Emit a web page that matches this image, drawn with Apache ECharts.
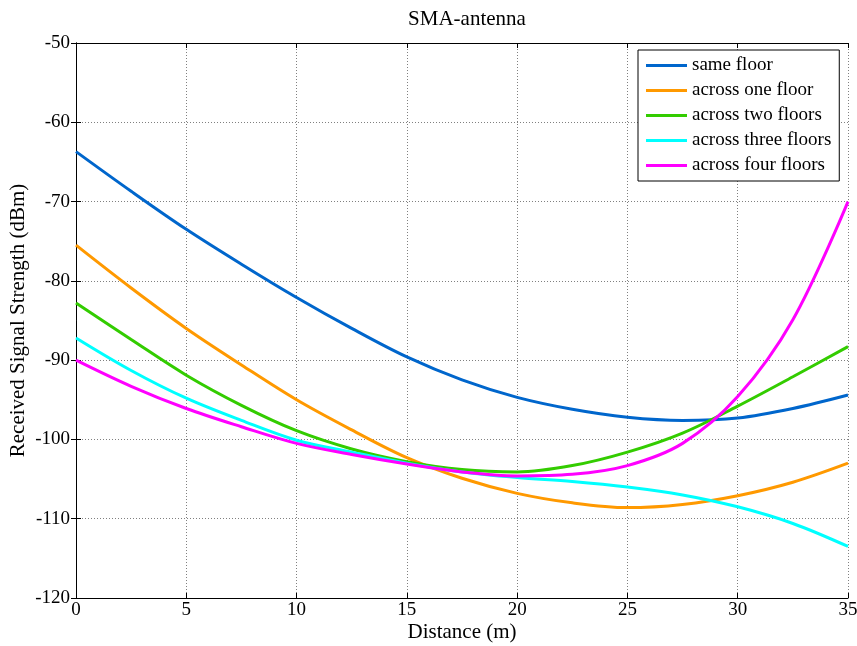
<!DOCTYPE html>
<html>
<head>
<meta charset="utf-8">
<script src="https://cdn.jsdelivr.net/npm/echarts@6/dist/echarts.min.js"></script>
<style>
html,body{margin:0;padding:0;background:#fff;}
#chart{width:857px;height:646px;}
</style>
</head>
<body>
<div id="chart"></div>
<script>
// Data
const distance = [0, 2.5, 5, 7.5, 10, 12.5, 15, 17.5, 20, 22.5, 25, 27.5, 30, 32.5, 35];
const sameFloor = [-63.7, -68.7, -73.5, -77.9, -82.1, -86.0, -89.6, -92.5, -94.7, -96.2, -97.2, -97.6, -97.3, -96.1, -94.4];
const acrossOne = [-75.5, -80.9, -86.0, -90.6, -95.0, -98.8, -102.3, -104.9, -106.8, -108.0, -108.6, -108.2, -107.1, -105.4, -103.0];
const acrossTwo = [-82.8, -87.4, -91.9, -95.7, -98.9, -101.2, -102.8, -103.8, -104.1, -103.3, -101.6, -99.2, -95.8, -92.1, -88.3];
const acrossThree = [-87.2, -91.3, -94.8, -97.6, -100.1, -101.6, -103.0, -104.1, -104.8, -105.3, -106.0, -107.0, -108.5, -110.6, -113.5];
const acrossFour = [-90.0, -93.3, -96.1, -98.4, -100.5, -101.9, -103.1, -104.1, -104.6, -104.4, -103.3, -100.5, -94.6, -84.9, -70.0];

const seriesNames = ['same floor', 'across one floor', 'across two floors', 'across three floors', 'across four floors'];
const seriesColors = ['#0066CC', '#FF9900', '#33CC00', '#00FFFF', '#FF00FF'];
const seriesValues = [sameFloor, acrossOne, acrossTwo, acrossThree, acrossFour];

const xTicks = {min: 0, max: 35, interval: 5};
const yTicks = {min: -120, max: -50, interval: 10};

const FONT = '"Liberation Serif", "Times New Roman", serif';

const chart = echarts.init(document.getElementById('chart'), null, {renderer: 'canvas'});

const gridLine = {show: true, lineStyle: {color: '#808080', type: [1, 2], width: 1}};
const axisLineStyle = {show: true, lineStyle: {color: '#000', width: 1}};

chart.setOption({
  animation: false,
  backgroundColor: '#fff',
  title: {
    text: 'SMA-antenna',
    left: 462, top: 4, textAlign: 'center',
    textStyle: {fontFamily: FONT, fontSize: 21, fontWeight: 'normal', color: '#000'}
  },
  grid: {left: 76, right: 9, top: 43, bottom: 48, containLabel: false, outerBoundsMode: 'none'},
  legend: {
    left: 638, top: 50, orient: 'vertical',
    data: seriesNames,
    icon: 'rect', itemWidth: 41, itemHeight: 3, itemGap: 6,
    padding: [6, 8, 6, 8],
    borderColor: '#000', borderWidth: 1, backgroundColor: '#fff',
    textStyle: {fontFamily: FONT, fontSize: 19, color: '#000', padding: [0, 0, 0, 0]}
  },
  xAxis: [
    {
      type: 'value', position: 'bottom', ...xTicks,
      name: 'Distance (m)', nameLocation: 'middle', nameGap: 24, nameMoveOverlap: false,
      nameTextStyle: {fontFamily: FONT, fontSize: 21, color: '#000'},
      axisLine: axisLineStyle,
      axisTick: {show: true, inside: true, length: 5, lineStyle: {color: '#000'}},
      axisLabel: {fontFamily: FONT, fontSize: 19, color: '#000', margin: 3},
      splitLine: gridLine
    },
    {
      type: 'value', position: 'top', ...xTicks,
      axisLine: axisLineStyle,
      axisTick: {show: true, inside: true, length: 5, lineStyle: {color: '#000'}},
      axisLabel: {show: false},
      splitLine: {show: false}
    }
  ],
  yAxis: [
    {
      type: 'value', position: 'left', ...yTicks,
      name: 'Received Signal Strength (dBm)', nameLocation: 'middle', nameGap: 47, nameRotate: 90, nameMoveOverlap: false,
      nameTextStyle: {fontFamily: FONT, fontSize: 21, color: '#000'},
      axisLine: axisLineStyle,
      axisTick: {show: true, inside: true, length: 5, lineStyle: {color: '#000'}},
      axisLabel: {fontFamily: FONT, fontSize: 19, color: '#000', margin: 6},
      splitLine: gridLine
    },
    {
      type: 'value', position: 'right', ...yTicks,
      axisLine: axisLineStyle,
      axisTick: {show: true, inside: true, length: 5, lineStyle: {color: '#000'}},
      axisLabel: {show: false},
      splitLine: {show: false}
    }
  ],
  series: seriesNames.map((name, i) => ({
    name: name,
    type: 'line',
    xAxisIndex: 0, yAxisIndex: 0,
    smooth: 0.35,
    symbol: 'none',
    color: seriesColors[i],
    lineStyle: {width: 3, color: seriesColors[i]},
    data: distance.map((d, j) => [d, seriesValues[i][j]])
  }))
});
</script>
</body>
</html>
